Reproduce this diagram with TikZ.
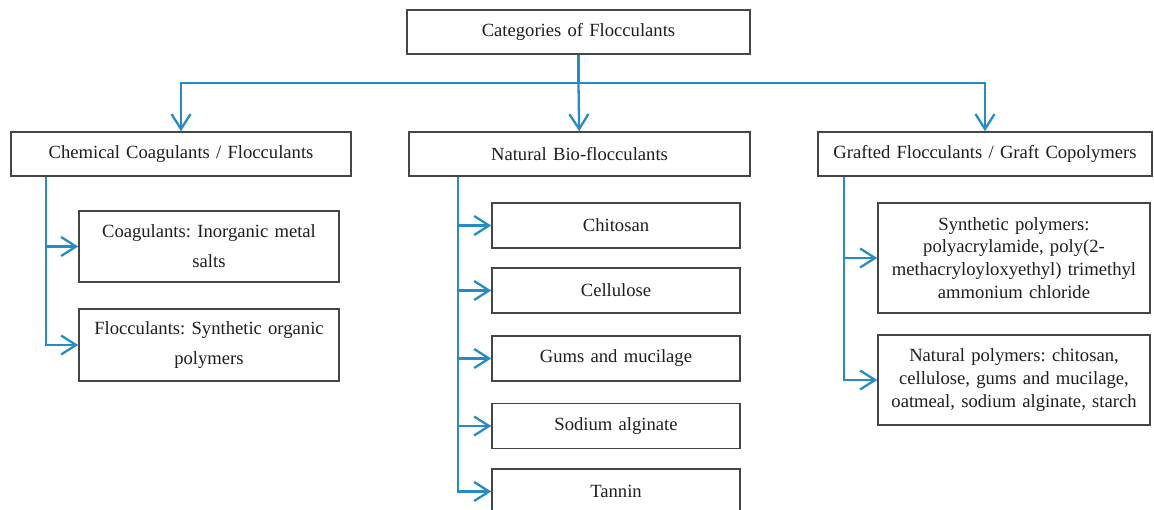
\documentclass[tikz,border=0pt]{standalone}
\usepackage{fontspec}
\setmainfont{Liberation Serif}
\frenchspacing
\usetikzlibrary{arrows.meta}
\definecolor{linkblue}{RGB}{38,140,196}
\definecolor{boxgray}{RGB}{70,70,70}
\definecolor{txtgray}{RGB}{30,30,30}
\begin{document}
\begin{tikzpicture}[x=0.02cm, y=-0.02cm,
    box/.style={draw=boxgray, line width=0.9pt, inner sep=0pt, align=center, text=txtgray, font=\fontsize{10.6}{13}\selectfont},
    link/.style={draw=linkblue, line width=1.3pt},
    tip/.style={-{Straight Barb[length=3mm,width=3.8mm,line width=1.3pt]}}]
    \useasboundingbox (0,0) rectangle (1154,510);
    \node[box, text width=6.86cm, minimum height=0.88cm] (top) at (578.5,32) {Categories of Flocculants};
    \node[box, text width=6.80cm, minimum height=0.88cm] (chem) at (181,154) {Chemical Coagulants / Flocculants};
    \node[box, text width=6.82cm, minimum height=0.88cm] (bio) at (579.5,154) {Natural Bio-flocculants};
    \node[box, text width=6.68cm, minimum height=0.88cm] (graft) at (985,154) {Grafted Flocculants / Graft Copolymers};
    % chemical
    \node[box, text width=5.2cm, minimum height=1.42cm, font=\fontsize{10.6}{17}\selectfont] (coag) at (209,246.5) {Coagulants: Inorganic metal\\ salts};
    \node[box, text width=5.2cm, minimum height=1.44cm, font=\fontsize{10.6}{17}\selectfont] (floc) at (209,345) {Flocculants: Synthetic organic\\ polymers};
    % natural
    \node[box, text width=4.96cm, minimum height=0.9cm] (chito) at (616,225.5) {Chitosan};
    \node[box, text width=4.96cm, minimum height=0.9cm] (cellu) at (616,290.5) {Cellulose};
    \node[box, text width=4.96cm, minimum height=0.9cm] (gums) at (616,358.5) {Gums and mucilage};
    \node[box, text width=4.96cm, minimum height=0.9cm] (sodium) at (616,426) {Sodium alginate};
    \node[box, text width=4.96cm, minimum height=0.9cm] (tannin) at (616,491.5) {Tannin};
    % grafted
    \node[box, text width=5.44cm, minimum height=2.2cm] (synth) at (1014,258) {Synthetic polymers:\\ polyacrylamide, poly(2-\\ methacryloyloxyethyl) trimethyl\\ ammonium chloride};
    \node[box, text width=5.44cm, minimum height=1.8cm] (natpoly) at (1014,380) {Natural polymers: chitosan,\\ cellulose, gums and mucilage,\\ oatmeal, sodium alginate, starch};

    \coordinate (bus) at (578.5,83);
    \draw[link] (top) -- (bus);
    \draw[link,tip] (bus) -| (chem);
    \draw[link,tip] (bus) -- (bio);
    \draw[link,tip] (bus) -| (graft);
    \foreach \n in {coag,floc}
        \draw[link,tip] ([xshift=0.72cm]chem.south west) |- (\n);
    \foreach \n in {chito,cellu,gums,sodium,tannin}
        \draw[link,tip] ([xshift=1cm]bio.south west) |- (\n);
    \foreach \n in {synth,natpoly}
        \draw[link,tip] ([xshift=0.54cm]graft.south west) |- (\n);
\end{tikzpicture}
\end{document}
